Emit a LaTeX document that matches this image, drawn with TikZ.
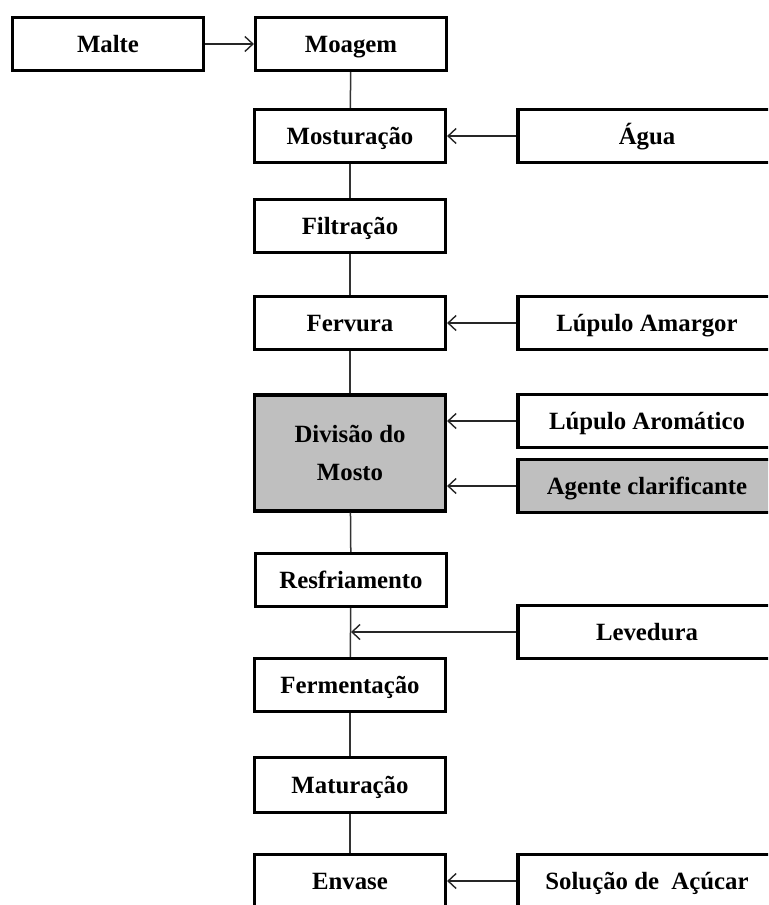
\documentclass[tikz,border=0pt]{standalone}
\usepackage{fontspec}
\setmainfont{Liberation Serif}
\usetikzlibrary{arrows.meta}

\tikzstyle{etapa} = [draw, line width=1.6pt, minimum width=95.5pt, minimum height=26.5pt, inner sep=0pt, text height=10pt, text depth=2pt, align=center, font=\bfseries\fontsize{12.4}{19}\selectfont]
\tikzstyle{insumo} = [etapa, minimum width=129pt]
\tikzstyle{cinza} = [fill=black!25]
\tikzstyle{line} = [line width=0.75pt, black!80]
\tikzstyle{arw} = [-{Straight Barb[length=4pt,width=7.5pt,line width=0.7pt]}, line width=0.75pt, black!85]

\begin{document}
\begin{tikzpicture}[x=0.5pt,y=-0.5pt]

    \useasboundingbox (0,0) rectangle (768,905);
    \clip (0,0) rectangle (768,905);

    % etapas do processo
    \node[etapa] (malte) at (108,44) {Malte};
    \node[etapa] (moagem) at (351,44) {Moagem};
    \node[etapa] (mostur) at (350,136) {Mosturação};
    \node[etapa] (filtr) at (350,226) {Filtração};
    \node[etapa] (fervura) at (350,323) {Fervura};
    \node[etapa, cinza, minimum height=58pt, text height=, text depth=] (divisao) at (350,453) {Divisão do\\Mosto};
    \node[etapa] (resfr) at (351,580) {Resfriamento};
    \node[etapa] (ferment) at (350,685) {Fermentação};
    \node[etapa, minimum height=27.5pt] (matur) at (350,785) {Maturação};
    \node[etapa] (envase) at (350,881) {Envase};

    % insumos
    \node[insumo] (agua) at (647,136) {Água};
    \node[insumo] (lamarg) at (647,323) {Lúpulo Amargor};
    \node[insumo] (laroma) at (647,421) {Lúpulo Aromático};
    \node[insumo, cinza] (agente) at (647,486) {Agente clarificante};
    \node[insumo] (levedura) at (647,632) {Levedura};
    \node[insumo] (solucao) at (647,881) {Solução de\ \ Açúcar};

    \draw[line] (moagem) -- (mostur);
    \draw[line] (mostur) -- (filtr);
    \draw[line] (filtr) -- (fervura);
    \draw[line] (fervura) -- (divisao);
    \draw[line] (divisao) -- (resfr);
    \draw[line] (resfr) -- (ferment);
    \draw[line] (ferment) -- (matur);
    \draw[line] (matur) -- (envase);

    \draw[arw] (malte) -- (moagem);
    \draw[arw] (agua) -- (mostur);
    \draw[arw] (lamarg) -- (fervura);
    \draw[arw] (laroma.west) -- (divisao.east |- laroma.west);
    \draw[arw] (agente.west) -- (divisao.east |- agente.west);
    \draw[arw] (levedura.west) -- (resfr.south |- levedura.west);
    \draw[arw] (solucao) -- (envase);

\end{tikzpicture}
\end{document}
